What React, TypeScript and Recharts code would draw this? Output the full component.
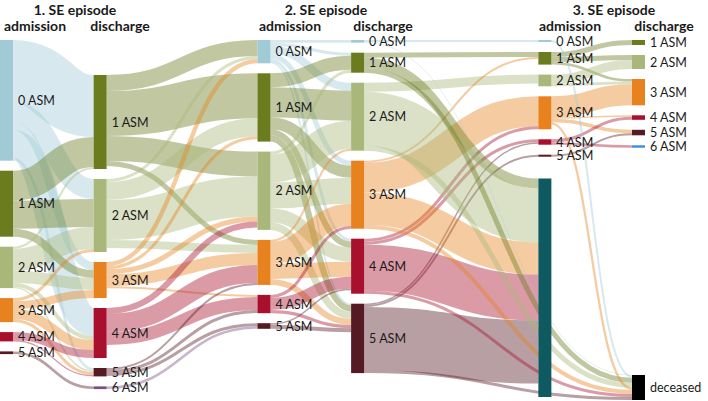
import React from "react";
import { Sankey } from "recharts";

type Flow = [number, number, number];

const asmLabels = ["0 ASM", "1 ASM", "2 ASM", "3 ASM", "4 ASM", "5 ASM", "6 ASM"];
const asmColors = ["#9fcad6", "#6b7c1e", "#a9b87a", "#e8821e", "#a8102e", "#561a24", "#7b4f80"];

// ASM levels shown in each column, top to bottom
const admission1 = [0, 1, 2, 3, 4, 5];
const discharge1 = [1, 2, 3, 4, 5, 6];
const admission2 = [0, 1, 2, 3, 4, 5];
const discharge2 = [0, 1, 2, 3, 4, 5];
const admission3 = [0, 1, 2, 3, 4, 5];
const discharge3 = [1, 2, 3, 4, 5, 6];

// [from ASM, to ASM, patients]
const adm1ToDis1: Flow[] = [
  [0, 1, 62], [0, 2, 20], [0, 3, 8], [0, 4, 28], [0, 5, 2.7],
  [1, 1, 30], [1, 2, 28], [1, 3, 8],
  [2, 1, 2], [2, 2, 22], [2, 3, 12], [2, 4, 4], [2, 5, 1.4],
  [3, 2, 3], [3, 3, 8], [3, 4, 10], [3, 5, 3],
  [4, 4, 8], [4, 5, 1.3],
  [5, 6, 2.7],
];
const dis1ToAdm2: Flow[] = [
  [1, 0, 16], [1, 1, 45], [1, 2, 25], [1, 3, 5],
  [2, 0, 3], [2, 1, 18], [2, 2, 40], [2, 3, 8],
  [3, 0, 4.3], [3, 1, 3], [3, 2, 5], [3, 3, 12], [3, 4, 2],
  [4, 2, 6], [4, 3, 18], [4, 4, 13],
  [5, 3, 2], [5, 4, 3], [5, 5, 3],
  [6, 5, 2.6],
];
const adm2ToDis2: Flow[] = [
  [0, 0, 2.7], [0, 1, 3], [0, 2, 8], [0, 3, 5], [0, 4, 3], [0, 5, 1.6],
  [1, 1, 14], [1, 2, 30], [1, 3, 12], [1, 4, 6], [1, 5, 6.3],
  [2, 1, 3], [2, 2, 28], [2, 3, 26], [2, 4, 14], [2, 5, 7.3],
  [3, 2, 2], [3, 3, 22], [3, 4, 15], [3, 5, 6],
  [4, 3, 3], [4, 4, 12], [4, 5, 3.3],
  [5, 4, 1.6], [5, 5, 4],
];
const dis2ToAdm3: Flow[] = [
  [0, 0, 2],
  [1, 1, 5],
  [2, 2, 9],
  [3, 1, 2], [3, 3, 30],
  [4, 3, 3], [4, 4, 3],
  [5, 4, 1.4], [5, 5, 2],
];
const adm3ToDis3: Flow[] = [
  [1, 1, 5], [1, 2, 5], [1, 3, 2.6],
  [2, 2, 9], [2, 3, 2.7],
  [3, 3, 21], [3, 4, 1.5], [3, 5, 3.5],
  [4, 4, 3], [4, 6, 2.4],
  [5, 5, 2],
];
// [from ASM, patients]
const dis2ToNoThird: [number, number][] = [[1, 10], [2, 54], [3, 32], [4, 46], [5, 63]];
const dis2ToDeceased: [number, number][] = [[0, 0.7], [1, 5], [2, 5], [3, 4], [4, 3], [5, 3]];
const adm3ToDeceased: [number, number][] = [[0, 2], [3, 2.3]];
const noThirdTotal = 218.5;

// layout helpers (hidden nodes only shape the columns)
const TINY = 1e-6;
const gapAboveDischarge1 = 25;
const gapAboveNoThird = 1.8;
const spacerAboveDeceased = 207.3;

type SNode = { name: string; color?: string; hidden?: boolean; noLabel?: boolean };

function buildData() {
  const nodes: SNode[] = [];
  const links: { source: number; target: number; value: number }[] = [];
  const id: Record<string, number> = {};
  const add = (key: string, n: SNode) => {
    id[key] = nodes.length;
    nodes.push(n);
  };
  const link = (s: string, t: string, v: number) => links.push({ source: id[s], target: id[t], value: v });
  const col = (prefix: string, levels: number[], last?: string) =>
    levels.forEach((l) =>
      add(`${prefix}${l}`, { name: asmLabels[l], color: l === 6 && last ? last : asmColors[l] })
    );

  col("a1-", admission1);
  add("gapB", { name: "", hidden: true });
  col("d1-", discharge1);
  col("a2-", admission2);
  col("d2-", discharge2);
  col("a3-", admission3);
  add("gapE", { name: "", hidden: true });
  add("none", { name: "no 3rd episode", color: "#0e5a60", noLabel: true });
  col("d3-", discharge3, "#3a8fd6");
  add("spacer", { name: "", hidden: true });
  add("dead", { name: "deceased", color: "#000000" });

  const flows = (from: string, to: string, list: Flow[]) =>
    list.forEach(([a, b, v]) => link(`${from}${a}`, `${to}${b}`, v));
  flows("a1-", "d1-", adm1ToDis1);
  flows("d1-", "a2-", dis1ToAdm2);
  flows("a2-", "d2-", adm2ToDis2);
  flows("d2-", "a3-", dis2ToAdm3);
  flows("a3-", "d3-", adm3ToDis3);
  dis2ToNoThird.forEach(([a, v]) => link(`d2-${a}`, "none", v));
  dis2ToDeceased.forEach(([a, v]) => link(`d2-${a}`, "dead", v));
  adm3ToDeceased.forEach(([a, v]) => link(`a3-${a}`, "dead", v));

  // hidden chains push columns to uneven horizontal positions
  const chain = (p: string, from: string, steps: number) => {
    let prev = from;
    for (let i = 0; i < steps; i++) {
      add(`${p}${i}`, { name: "", hidden: true });
      link(prev, `${p}${i}`, TINY);
      prev = `${p}${i}`;
    }
    return prev;
  };
  const h = chain("h", "a1-5", 3);
  discharge1.forEach((l) => link(h, `d1-${l}`, TINY));
  link(h, "gapB", gapAboveDischarge1);
  const k = chain("k", "gapB", 6);
  admission2.forEach((l) => link(k, `a2-${l}`, TINY));
  const m = chain("m", "a2-5", 3);
  discharge2.forEach((l) => link(m, `d2-${l}`, TINY));
  const n = chain("n", "d2-5", 7);
  admission3.forEach((l) => link(n, `a3-${l}`, TINY));
  link(n, "gapE", gapAboveNoThird);
  link(n, "none", TINY);
  add("pad", { name: "", hidden: true });
  link("none", "pad", noThirdTotal - spacerAboveDeceased);
  link("gapE", "pad", TINY);
  link("none", "spacer", spacerAboveDeceased);
  const z = chain("tail", "pad", 2);
  link(z, "spacer", TINY);

  return { nodes, links };
}

const data = buildData();
const FONT = "Lato, 'Open Sans', sans-serif";

function renderNode(props: any) {
  const { x, y, width, height, payload } = props;
  if (payload.hidden) return <g />;
  const h = Math.max(height, 1.5);
  return (
    <g>
      <rect x={x} y={y} width={width} height={h} fill={payload.color} />
      {!payload.noLabel && (
        <text
          x={x + width + 5}
          y={y + h / 2}
          dominantBaseline="central"
          fontSize={12.5}
          fontFamily={FONT}
          fill="#1a1a1a"
        >
          {payload.name}
        </text>
      )}
    </g>
  );
}

function renderLink(props: any) {
  const { sourceX, targetX, sourceY, targetY, sourceControlX, targetControlX, linkWidth, payload } = props;
  const src = typeof payload.source === "number" ? data.nodes[payload.source] : payload.source;
  const tgt = typeof payload.target === "number" ? data.nodes[payload.target] : payload.target;
  if (src.hidden || tgt.hidden) return <g />;
  return (
    <path
      d={`M${sourceX},${sourceY}C${sourceControlX},${sourceY} ${targetControlX},${targetY} ${targetX},${targetY}`}
      fill="none"
      stroke={src.color}
      strokeWidth={linkWidth}
      strokeOpacity={0.42}
    />
  );
}

const headers = [
  { x: 75, y: 15, text: "1. SE episode" },
  { x: 35, y: 31, text: "admission" },
  { x: 120, y: 31, text: "discharge" },
  { x: 326, y: 15, text: "2. SE episode" },
  { x: 290, y: 31, text: "admission" },
  { x: 383, y: 31, text: "discharge" },
  { x: 614, y: 15, text: "3. SE episode" },
  { x: 570, y: 31, text: "admission" },
  { x: 664, y: 31, text: "discharge" },
];

export default function App() {
  return (
    <div style={{ position: "absolute", left: 0, top: 0, width: 708, height: 401, background: "#fff" }}>
      <Sankey
        width={708}
        height={401}
        data={data}
        nodeWidth={13}
        nodePadding={10}
        iterations={0}
        linkCurvature={0.5}
        margin={{ top: 40, right: 63, bottom: 1, left: 0 }}
        node={renderNode}
        link={renderLink}
      />
      <svg width={708} height={40} style={{ position: "absolute", left: 0, top: 0 }}>
        {headers.map((h, i) => (
          <text key={i} x={h.x} y={h.y} textAnchor="middle" fontSize={14} fontWeight={700} fontFamily={FONT} fill="#1a1a1a">
            {h.text}
          </text>
        ))}
      </svg>
    </div>
  );
}
